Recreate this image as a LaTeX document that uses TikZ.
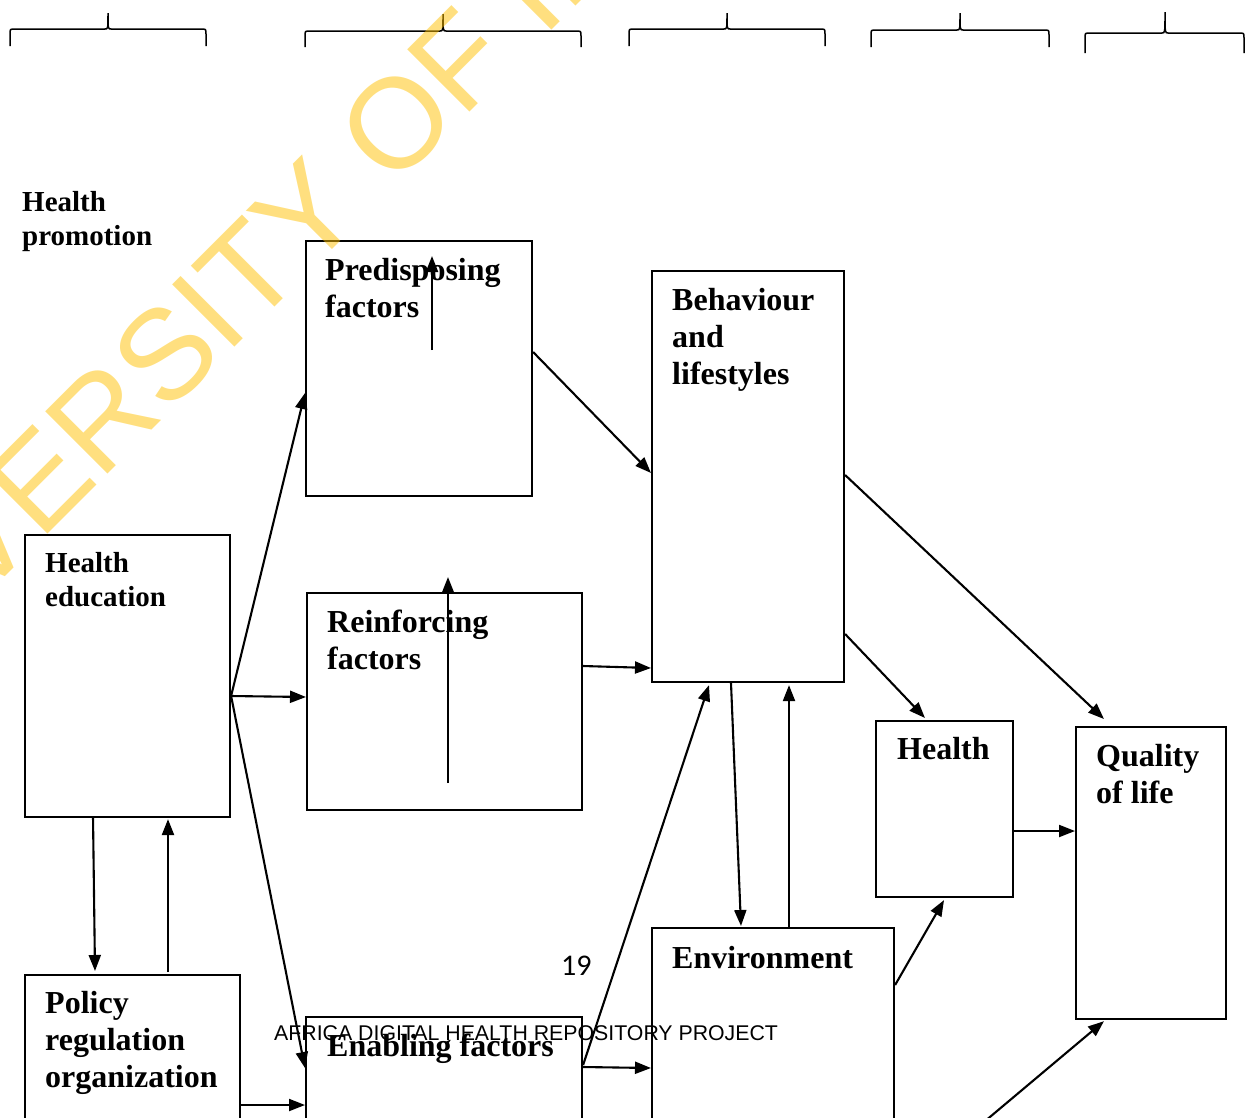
\documentclass[tikz,border=0pt]{standalone}
\usepackage{fontspec}
\setmainfont{Liberation Serif}
\newfontfamily\footfont{Liberation Sans}
\newfontfamily\pagefont{Carlito}
\usepackage{xcolor}
\usetikzlibrary{arrows.meta,positioning}

\definecolor{wmark}{HTML}{FFC000}

\begin{document}
\begin{tikzpicture}[
    x=1pt, y=-1pt,
    box/.style={rectangle, draw, line width=2.1pt, anchor=north west, inner sep=0pt},
    txt/.style={anchor=north west, align=left, inner sep=0pt, font=\bfseries\fontsize{32}{37}\selectfont},
    txtsmall/.style={txt, font=\bfseries\fontsize{29}{34}\selectfont},
    arrow/.style={-{Triangle[length=16pt,width=12pt]}, line width=2.1pt},
    brace/.style={line width=1.5pt}
]
\useasboundingbox (0,0) rectangle (1255,1117);
\clip (0,0) rectangle (1255,1117);

% braces over the columns
\foreach \a/\m/\b/\t/\e/\f in {10/108/206/13/29/46, 305/443/581/14/31/47, 629/727/825/13/29/46, 871/960/1049/13/30/47, 1085/1165/1244/12/33/53}
  \draw[brace] (\a,\f) -- (\a,\e+5) .. controls (\a,\e) .. (\a+5,\e) -- (\m-3,\e)
    .. controls (\m,\e) .. (\m,\t) .. controls (\m,\e) .. (\m+3,\e) -- (\b-5,\e)
    .. controls (\b,\e) .. (\b,\e+5) -- (\b,\f);

% boxes
\node[box, minimum width=205, minimum height=282] (he) at (24,534) {};
\node[box, minimum width=226, minimum height=255] (pre) at (305,240) {};
\node[box, minimum width=275, minimum height=217] (rein) at (306,592) {};
\node[box, minimum width=276, minimum height=200] (enab) at (305,1016) {};
\node[box, minimum width=192, minimum height=411] (beh) at (651,270) {};
\node[box, minimum width=242, minimum height=250] (env) at (651,927) {};
\node[box, minimum width=137, minimum height=176] (hlth) at (875,720) {};
\node[box, minimum width=150, minimum height=292] (qol) at (1075,726) {};
\node[box, minimum width=215, minimum height=200] (pol) at (24,974) {};

% texts
\node[txtsmall] (hptext) at (22,191) {Health\\promotion};
\node[txtsmall, below right=18pt and 21pt of he.north west] (hetext) {Health\\education};
\node[txt, below right=18pt and 20pt of pre.north west] (pretext) {Predisposing\\factors};
\node[txt, below right=18pt and 21pt of rein.north west] (reintext) {Reinforcing\\factors};
\node[txt, below right=18pt and 21pt of beh.north west] (behtext) {Behaviour\\and\\lifestyles};
\node[txt, below right=19pt and 21pt of env.north west] (envtext) {Environment};
\node[txt, below right=17pt and 22pt of hlth.north west] (hlthtext) {Health};
\node[txt, below right=18pt and 21pt of qol.north west] (qoltext) {Quality\\of life};
\node[txt, below right=17pt and 21pt of pol.north west] (poltext) {Policy\\regulation\\organization};
\node[txt, below right=18pt and 22pt of enab.north west] (enabtext) {Enabling factors};

% connectors
\coordinate (heout) at ([shift={(0,162)}]he.north east);
\coordinate (prestem) at (432,350);
\coordinate (reinstem) at (448,783);
\coordinate (qolin) at (978,1127);

\draw[arrow] (heout) -- ([shift={(0,153)}]pre.north west);
\draw[arrow] (heout) -- ([shift={(0,105)}]rein.north west);
\draw[arrow] (heout) -- ([shift={(0,52)}]enab.north west);
\draw[arrow] ([shift={(69,-2)}]he.south west) -- ([shift={(71,-3)}]pol.north west);
\draw[arrow] ([shift={(144,-2)}]pol.north west) -- ([shift={(144,1)}]he.south west);
\draw[arrow] ([shift={(0,131)}]pol.north east) -- ([shift={(0,89)}]enab.north west);
\draw[arrow] ([shift={(0,112)}]pre.north east) -- ([shift={(0,203)}]beh.north west);
\draw[arrow] ([shift={(0,74)}]rein.north east) -- ([shift={(0,398)}]beh.north west);
\draw[arrow] ([shift={(0,51)}]enab.north east) -- ([shift={(0,141)}]env.north west);
\draw[arrow] ([shift={(0,49)}]enab.north east) -- ([shift={(58,2)}]beh.south west);
\draw[arrow] ([shift={(80,0)}]beh.south west) -- ([shift={(90,-1)}]env.north west);
\draw[arrow] ([shift={(138,0)}]env.north west) -- ([shift={(138,2)}]beh.south west);
\draw[arrow] ([shift={(0,364)}]beh.north east) -- ([shift={(50,-2)}]hlth.north west);
\draw[arrow] ([shift={(0,205)}]beh.north east) -- ([shift={(29,-7)}]qol.north west);
\draw[arrow] ([shift={(0,111)}]hlth.north east) -- ([shift={(0,105)}]qol.north west);
\draw[arrow] ([shift={(0,58)}]env.north east) -- ([shift={(69,2)}]hlth.south west);
\draw[arrow] (qolin) -- ([shift={(29,1)}]qol.south west);
\draw[arrow] (prestem) -- ([shift={(127,16)}]pre.north west);
\draw[arrow] (reinstem) -- ([shift={(142,-15)}]rein.north west);

% page footer
\node[anchor=base west, inner sep=0pt, font=\pagefont\fontsize{30}{36}\selectfont] (pagenum) at (561,975) {19};
\node[anchor=base west, inner sep=0pt, font=\footfont\fontsize{21.3}{25}\selectfont] (repo) at (274,1040) {AFRICA DIGITAL HEALTH REPOSITORY PROJECT};

% watermark
\node[anchor=base west, inner sep=0pt, rotate=45, text=wmark, text opacity=0.5,
      font=\footfont\fontsize{128}{150}\selectfont] (wmk) at (-176,758) {UNIVERSITY OF IBADAN};
\end{tikzpicture}
\end{document}
